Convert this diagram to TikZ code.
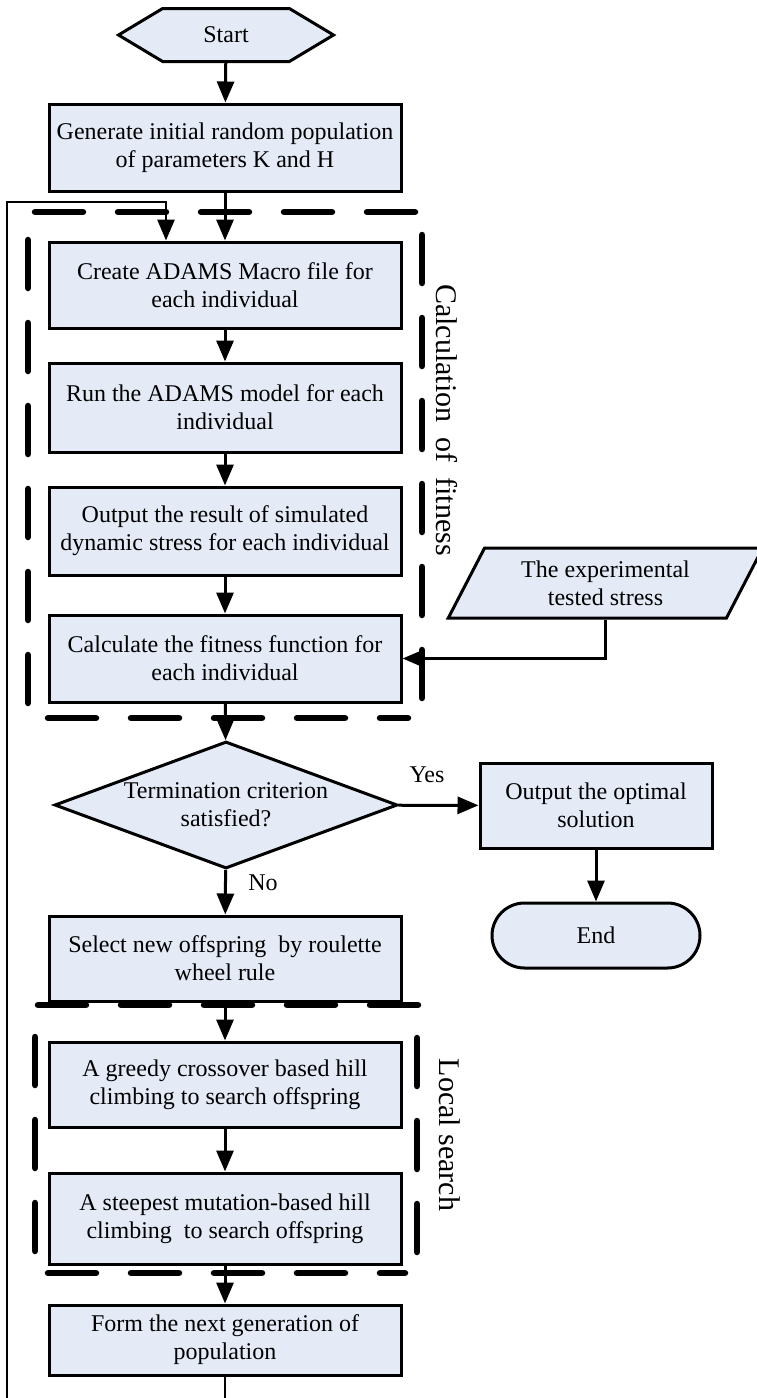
\documentclass[tikz,border=0pt]{standalone}
\usepackage{fontspec}
\setmainfont{Liberation Serif}
\usetikzlibrary{shapes.geometric,shapes.misc,shapes.symbols,arrows.meta}
\definecolor{boxfill}{RGB}{228,234,246}
\tikzset{
  base/.style={draw, line width=3pt, fill=boxfill, align=center, inner sep=4pt,
    font=\fontsize{24}{28}\selectfont},
  proc/.style={base, rectangle, minimum width=352pt},
  term/.style={base, rounded rectangle, minimum width=216pt, minimum height=65pt},
  flow/.style={line width=3pt, -{Triangle[length=21pt,width=17pt]}},
  groupline/.style={line width=6.5pt, line cap=round, dash pattern=on 48pt off 35pt},
  lab/.style={font=\fontsize{24}{28}\selectfont},
  sidelab/.style={font=\fontsize{30}{34}\selectfont, rotate=-90}
}
\begin{document}
\begin{tikzpicture}[x=1pt,y=-1pt]
\useasboundingbox (0,0) rectangle (756,1398);
% main column
\node[base, signal, signal to=west and east, signal pointer angle=62,
  minimum width=215pt, minimum height=53pt] (start) at (226,35) {Start};
\node[proc, minimum height=87pt] (gen) at (225,147.5) {Generate initial random population\\of parameters K and H};
\node[proc, minimum height=86pt] (create) at (225,285) {Create ADAMS Macro file for\\each individual};
\node[proc, minimum height=89pt] (run) at (225,407.5) {Run the ADAMS model for each\\individual};
\node[proc, minimum height=88pt] (outres) at (225,531) {Output the result of simulated\\dynamic stress for each individual};
\node[proc, minimum height=87pt] (calc) at (225,658.5) {Calculate the fitness function for\\each individual};
\node[base, diamond, aspect=2.7, inner sep=0pt, minimum width=343pt, minimum height=127pt]
  (crit) at (226,805) {Termination criterion\\satisfied?};
\node[proc, minimum width=232pt, minimum height=85pt] (optimal) at (596,805.5) {Output the optimal\\solution};
\node[term] (finish) at (596,935.5) {End};
\node[proc, minimum height=85pt] (select) at (225,958.5) {Select new offspring\ \ by roulette\\wheel rule};
\node[proc, minimum height=85pt] (greedy) at (225,1084.5) {A greedy crossover based hill\\climbing to search offspring};
\node[proc, minimum height=91pt] (steep) at (225,1218.5) {A steepest mutation-based hill\\climbing\ \ to search offspring};
\node[proc, minimum height=70pt] (form) at (225,1340) {Form the next generation of\\population};
% measured input
\node[base, trapezium, trapezium left angle=63.4, trapezium right angle=116.6,
  trapezium stretches=true, minimum width=315pt, minimum height=70pt]
  (expstress) at (605.5,583) {The experimental\\tested stress};
% labels
\node[lab] (yes) at (427,775) {Yes};
\node[lab] (no) at (263,883) {No};
\node[sidelab] (fitlab) at (447,420) {Calculation\ \ of\ \ fitness};
\node[sidelab] (locallab) at (450,1135) {Local search};
% arrows
\draw[flow] (start) -- (gen);
\draw[flow] (gen) -- (create);
\draw[flow] (create) -- (run);
\draw[flow] (run) -- (outres);
\draw[flow] (outres) -- (calc);
\draw[flow] (calc) -- (crit);
\draw[flow] (crit) -- (optimal);
\draw[flow] (optimal) -- (finish);
\draw[flow] (crit) -- (select);
\draw[flow] (select) -- (greedy);
\draw[flow] (greedy) -- (steep);
\draw[flow] (steep) -- (form);
\draw[flow] (expstress.south) |- (calc.east);
% loop back
\coordinate (loopbot) at (7,1404);
\coordinate (looptop) at (7,202);
\draw[flow, line width=2.8pt] (form.south) |- (loopbot) -- (looptop) -| ([xshift=-59pt]create.north);
% dashed groups
\draw[groupline] (415,212) -- (28,212) -- (28,718) -- (408,718);
\draw[groupline] (422,235) -- (422,702);
\draw[groupline] (418,1005) -- (35,1005) -- (35,1273) -- (405,1273);
\draw[groupline] (417,1038) -- (417,1255);
\end{tikzpicture}
\end{document}
